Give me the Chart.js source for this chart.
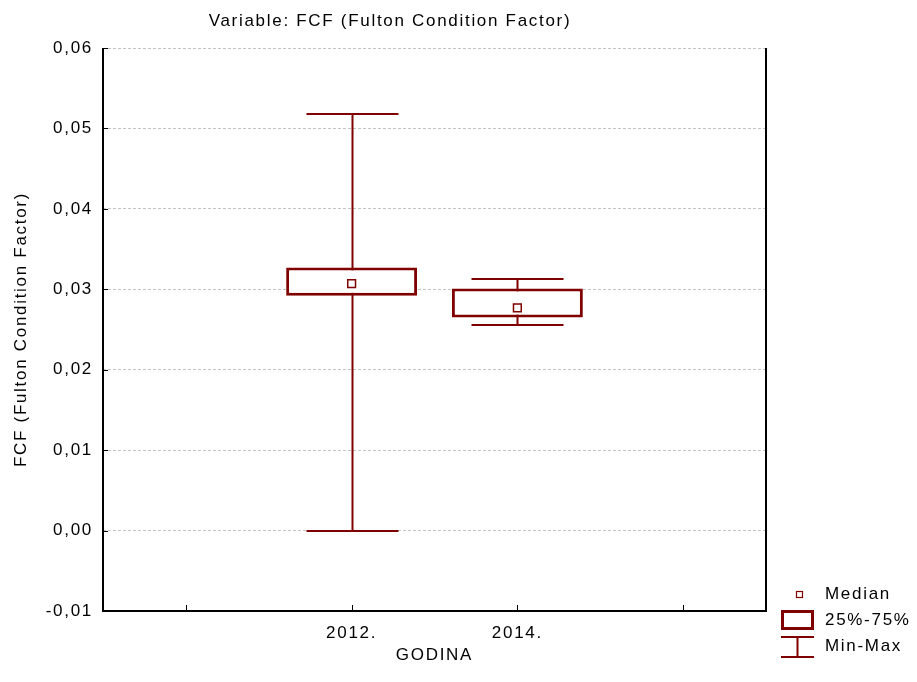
<!DOCTYPE html>
<html>
<head>
<meta charset="utf-8">
<script src="https://cdn.jsdelivr.net/npm/chart.js@4.4.1/dist/chart.umd.min.js"></script>
<style>
  html, body { margin: 0; padding: 0; background: #fff; }
  #wrap { width: 917px; height: 682px; }
</style>
</head>
<body>
<div id="wrap"><canvas id="chart" width="917" height="682"></canvas></div>
<script>
// categories: empty slots left/right, like the original axis
const categories = ["", "2012.", "2014.", ""];
const minVals    = [null, 0.0000, 0.0255, null];
const q1Vals     = [null, 0.0292, 0.0265, null];
const medianVals = [null, 0.0307, 0.0277, null];
const q3Vals     = [null, 0.0327, 0.0301, null];
const maxVals    = [null, 0.0518, 0.0313, null];
const yTickMin = -0.01;
const yTickMax = 0.06;
const yTickStep = 0.01;

const RED = "#800000";
const FONT = "'Liberation Sans', Arial, sans-serif";
const SPACING = "1.7px";

const boxData = categories.map((c, i) => q1Vals[i] == null ? null : [q1Vals[i], q3Vals[i]]);

const spacingPlugin = {
  id: "spacing",
  beforeDraw(chart) {
    chart.ctx.letterSpacing = SPACING;
  }
};

const whiskerPlugin = {
  id: "whiskers",
  beforeDatasetsDraw(chart) {
    const { ctx, scales: { x, y } } = chart;
    const slot = x.getPixelForValue(1) - x.getPixelForValue(0);
    const half = slot * 0.555 / 2;
    ctx.save();
    ctx.strokeStyle = RED;
    ctx.lineWidth = 2;
    categories.forEach((c, i) => {
      if (minVals[i] == null) return;
      const px = Math.round(x.getPixelForValue(i)) + 0.5;
      const yMin = Math.round(y.getPixelForValue(minVals[i]));
      const yMax = Math.round(y.getPixelForValue(maxVals[i]));
      ctx.beginPath();
      ctx.moveTo(px, yMin);
      ctx.lineTo(px, yMax);
      ctx.moveTo(px - half, yMin);
      ctx.lineTo(px + half, yMin);
      ctx.moveTo(px - half, yMax);
      ctx.lineTo(px + half, yMax);
      ctx.stroke();
    });
    ctx.restore();
  },
  afterDraw(chart) {
    const { ctx, chartArea: a, scales: { x, y } } = chart;
    ctx.save();
    // frame
    ctx.strokeStyle = "#000";
    ctx.lineWidth = 2;
    ctx.beginPath();
    ctx.moveTo(a.left, a.top);
    ctx.lineTo(a.left, a.bottom);
    ctx.lineTo(a.right, a.bottom);
    ctx.lineTo(a.right, a.top);
    ctx.stroke();
    // inward tick marks
    ctx.lineWidth = 1;
    ctx.beginPath();
    y.ticks.forEach(t => {
      const py = Math.round(y.getPixelForValue(t.value)) + 0.5;
      ctx.moveTo(a.left, py);
      ctx.lineTo(a.left + 5, py);
    });
    categories.forEach((c, i) => {
      const px = Math.round(x.getPixelForValue(i)) + 0.5;
      ctx.moveTo(px, a.bottom);
      ctx.lineTo(px, a.bottom - 6);
    });
    ctx.stroke();

    // titles
    ctx.fillStyle = "#000";
    ctx.font = "17px " + FONT;
    ctx.textAlign = "center";
    ctx.textBaseline = "middle";
    ctx.fillText("Variable: FCF (Fulton Condition Factor)", 390, 21);
    ctx.fillText("GODINA", (a.left + a.right) / 2, 655);
    ctx.save();
    ctx.translate(21, (a.top + a.bottom) / 2);
    ctx.rotate(-Math.PI / 2);
    ctx.fillText("FCF (Fulton Condition Factor)", 0, 0);
    ctx.restore();

    // legend
    ctx.textAlign = "left";
    ctx.fillText("Median", 825, 594);
    ctx.fillText("25%-75%", 825, 620);
    ctx.fillText("Min-Max", 825, 646);
    ctx.strokeStyle = RED;
    ctx.lineWidth = 1.2;
    ctx.strokeRect(796.5, 591.5, 6, 6);
    ctx.lineWidth = 3;
    ctx.strokeRect(782.5, 611.5, 30, 17);
    ctx.lineWidth = 2;
    ctx.beginPath();
    ctx.moveTo(781, 637); ctx.lineTo(814, 637);
    ctx.moveTo(781, 657); ctx.lineTo(814, 657);
    ctx.moveTo(797.5, 637); ctx.lineTo(797.5, 657);
    ctx.stroke();
    ctx.restore();
  }
};

new Chart(document.getElementById("chart"), {
  type: "bar",
  data: {
    labels: categories,
    datasets: [
      {
        type: "bar",
        label: "25%-75%",
        data: boxData,
        backgroundColor: "#fff",
        borderColor: RED,
        borderWidth: 3,
        borderSkipped: false,
        categoryPercentage: 1,
        barPercentage: 0.79,
        order: 2,
      },
      {
        type: "line",
        label: "Median",
        data: medianVals,
        showLine: false,
        pointStyle: "rect",
        pointRadius: 5.5,
        pointBackgroundColor: "#fff",
        pointBorderColor: RED,
        pointBorderWidth: 1.5,
        order: 1,
      },
    ],
  },
  options: {
    responsive: false,
    animation: false,
    layout: { padding: { top: 48, right: 151, left: 0, bottom: 0 } },
    plugins: {
      legend: { display: false },
      title: { display: false },
      tooltip: { enabled: false },
    },
    scales: {
      x: {
        type: "category",
        offset: true,
        grid: { display: false, drawTicks: false },
        border: { display: false },
        ticks: { color: "#000", font: { size: 17, family: FONT }, padding: 12, maxRotation: 0, autoSkip: false },
        afterFit(scale) { scale.height = 71; },
      },
      y: {
        min: yTickMin,
        max: yTickMax,
        grid: { color: "#c4c4c4", lineWidth: 1, drawTicks: false },
        border: { display: false, dash: [3, 2] },
        ticks: {
          stepSize: yTickStep,
          color: "#000",
          font: { size: 17, family: FONT },
          padding: 10,
          callback: v => v.toFixed(2).replace(".", ",").replace("-0,00", "0,00"),
        },
        afterFit(scale) { scale.width = 103; },
      },
    },
  },
  plugins: [spacingPlugin, whiskerPlugin],
});
</script>
</body>
</html>
